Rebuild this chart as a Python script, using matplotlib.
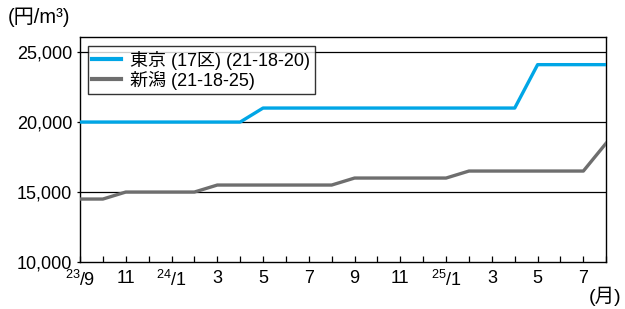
import matplotlib
matplotlib.use("Agg")
import matplotlib.pyplot as plt
from matplotlib.ticker import FixedLocator, MultipleLocator

plt.rcParams['font.family'] = ['Liberation Sans', 'Noto Sans CJK JP']
plt.rcParams['mathtext.fontset'] = 'custom'
plt.rcParams['mathtext.rm'] = 'Liberation Sans'
plt.rcParams['mathtext.it'] = 'Liberation Sans'

# monthly values, 23/9 .. 25/8
tokyo = [20000, 20000, 20000, 20000, 20000, 20000, 20000, 20000,
         21000, 21000, 21000, 21000, 21000, 21000, 21000, 21000,
         21000, 21000, 21000, 21000, 24100, 24100, 24100, 24100]
niigata = [14500, 14500, 15000, 15000, 15000, 15000, 15500, 15500,
           15500, 15500, 15500, 15500, 16000, 16000, 16000, 16000,
           16000, 16500, 16500, 16500, 16500, 16500, 16500, 18500]
tick_labels = [r"$^{23}$/9", "11", r"$^{24}$/1", "3", "5", "7",
               "9", "11", r"$^{25}$/1", "3", "5", "7"]
y_ticks = [10000, 15000, 20000, 25000]
series_names = ["東京 (17区) (21-18-20)", "新潟 (21-18-25)"]

BLUE = "#00a6e6"
GRAY = "#6e6e6e"

fig = plt.figure(figsize=(6.25, 3.09), dpi=100)
ax = fig.add_axes([0.128, 0.152, 0.842, 0.728])

x = list(range(len(tokyo)))
ax.plot(x, tokyo, color=BLUE, lw=2.4, label=series_names[0], zorder=3)
ax.plot(x, niigata, color=GRAY, lw=2.4, label=series_names[1], zorder=3)

ax.set_xlim(0, len(tokyo) - 1)
ax.set_ylim(10000, 26070)

for v in y_ticks[1:]:
    ax.axhline(v, color="black", lw=0.9, zorder=1)

ax.set_yticks(y_ticks)
ax.set_yticklabels([f"{v:,}" for v in y_ticks], fontsize=13)
ax.tick_params(axis='y', direction='out', length=2.5, width=0.9, pad=3)

ax.xaxis.set_major_locator(FixedLocator(list(range(0, len(tokyo), 2))))
ax.set_xticklabels(tick_labels, fontsize=13)
ax.xaxis.set_minor_locator(MultipleLocator(1))
ax.tick_params(axis='x', which='both', direction='in', length=4.5, width=0.9, pad=6)

for s in ax.spines.values():
    s.set_linewidth(1.0)

leg = ax.legend(loc='upper left', bbox_to_anchor=(0.015, 0.96), fontsize=13,
                frameon=True, fancybox=False, edgecolor='black',
                handlelength=1.6, handletextpad=0.5, borderpad=0.25,
                labelspacing=0.05, borderaxespad=0)
leg.get_frame().set_linewidth(1.0)
for h in leg.get_lines():
    h.set_linewidth(3.0)

fig.text(0.012, 0.945, "(円/m³)", fontsize=14.5, ha='left', va='center')
fig.text(0.995, 0.04, "(月)", fontsize=14, ha='right', va='center')

fig.savefig("out.png", dpi=100)
